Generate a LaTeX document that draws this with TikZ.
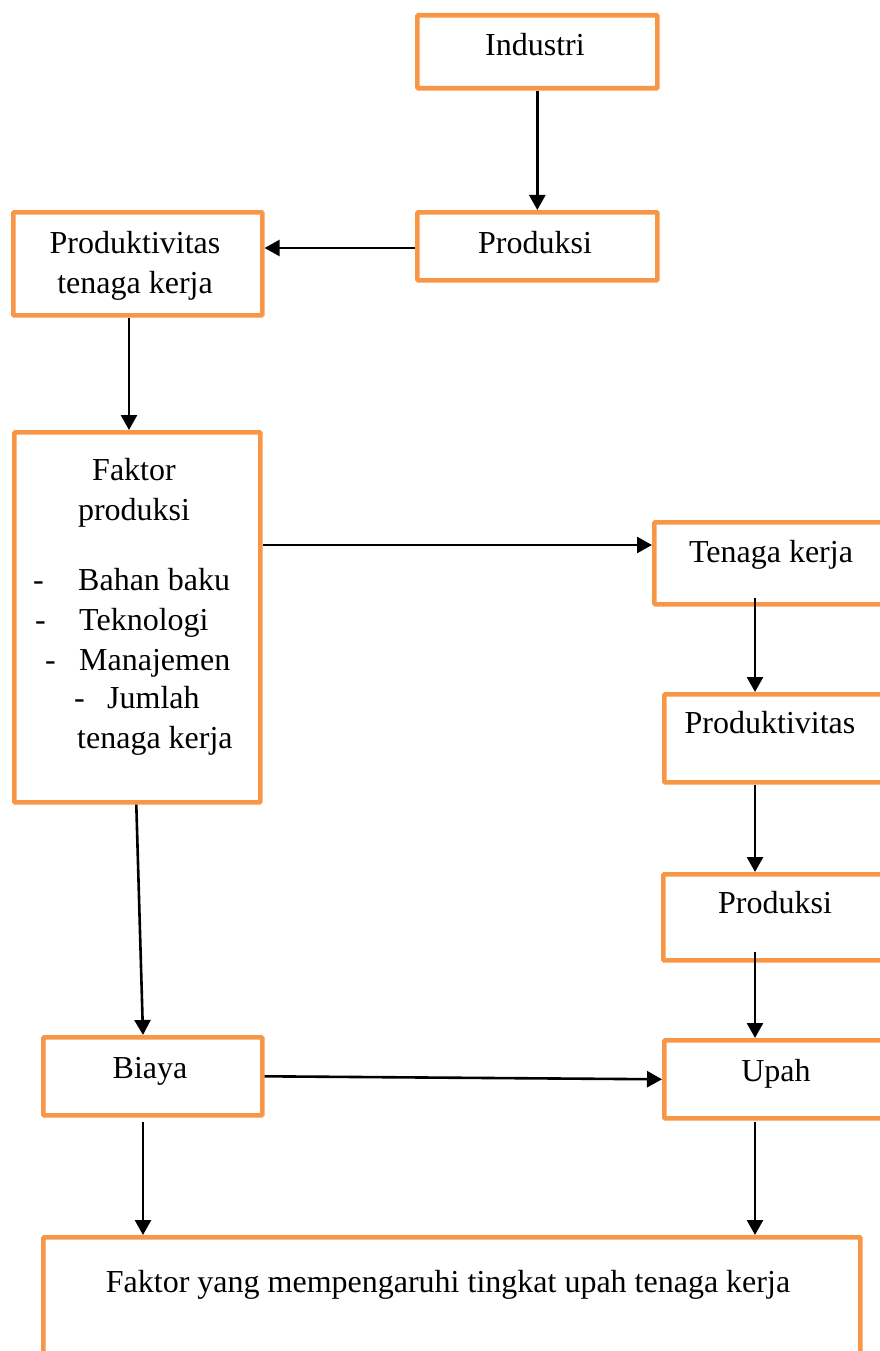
\documentclass[tikz,border=0pt]{standalone}
\usepackage{fontspec}
\setmainfont{Liberation Serif}
\usetikzlibrary{arrows.meta}
\definecolor{boxorange}{HTML}{F79646}
\begin{document}
\begin{tikzpicture}[x=1pt,y=-1pt,
  box/.style={draw=boxorange, line width=4.6pt, rectangle, inner sep=0pt, anchor=north west, rounded corners=1pt},
  txt/.style={font=\fontsize{32}{38}\selectfont, inner sep=0pt, anchor=base},
  txtw/.style={font=\fontsize{32}{38}\selectfont, inner sep=0pt, anchor=base west},
  arr/.style={draw=black, line width=2.6pt, -{Triangle[length=15pt,width=16pt]}}]
\path[use as bounding box] (0,0) rectangle (880,1351);
\clip (0,0) rectangle (880,1351);
\fill[white] (0,0) rectangle (880,1351);

% boxes
\node[box, minimum width=240pt, minimum height=73pt] (ind) at (415,13) {};
\node[box, minimum width=240pt, minimum height=68pt] (prodA) at (415,210) {};
\node[box, minimum width=249pt, minimum height=103pt] (ptk) at (11,210) {};
\node[box, minimum width=246pt, minimum height=370pt] (fak) at (12,430) {};
\node[box, minimum width=260pt, minimum height=82pt] (tk) at (652,520) {};
\node[box, minimum width=250pt, minimum height=88pt] (prodv) at (662,692) {};
\node[box, minimum width=250pt, minimum height=86pt] (prodB) at (661,872) {};
\node[box, minimum width=219pt, minimum height=78pt] (biaya) at (41,1035) {};
\node[box, minimum width=250pt, minimum height=78pt] (upah) at (662,1038) {};
\node[box, minimum width=817pt, minimum height=150pt] (bot) at (41,1235) {};

% texts
\node[txt] (tInd) at (535,56) {Industri};
\node[txt] (tProdA) at (535,253) {Produksi};
\node[txt] (tPtk1) at (135,253) {Produktivitas};
\node[txt] (tPtk2) at (135,293) {tenaga kerja};
\node[txt] (tFak1) at (134,480) {Faktor};
\node[txt] (tFak2) at (134,520) {produksi};
\node[txtw] (d1) at (33,590) {-};
\node[txtw] (d2) at (35,630) {-};
\node[txtw] (d3) at (45,670) {-};
\node[txtw] (d4) at (74,708) {-};
\node[txtw] (l1) at (78,590) {Bahan baku};
\node[txtw] (l2) at (79,630) {Teknologi};
\node[txtw] (l3) at (79,670) {Manajemen};
\node[txtw] (l4) at (107,708) {Jumlah};
\node[txtw] (l5) at (77,748) {tenaga kerja};
\node[txt] (tTk) at (771,562) {Tenaga kerja};
\node[txt] (tProdv) at (770,733) {Produktivitas};
\node[txt] (tProdB) at (775,913) {Produksi};
\node[txt] (tBiaya) at (150,1078) {Biaya};
\node[txt] (tUpah) at (776,1081) {Upah};
\node[txt] (tBot) at (448,1292) {Faktor yang mempengaruhi tingkat upah tenaga kerja};

% helper coordinates
\coordinate (yA) at (0,248);
\coordinate (yB) at (0,545);
\coordinate (xA) at (129,0);
\coordinate (xR) at (755,0);
\coordinate (xL) at (143,0);

% connectors
\draw[arr] (ind.south) -- (prodA.north);
\draw[arr] (prodA.west |- yA) -- (ptk.east |- yA);
\draw[arr] (ptk.south -| xA) -- (fak.north -| xA);
\draw[arr] (fak.east |- yB) -- (tk.west |- yB);
\draw[arr] ([yshift=9pt]tk.south -| xR) -- (prodv.north -| xR);
\draw[arr] (prodv.south -| xR) -- (prodB.north -| xR);
\draw[arr] ([yshift=11pt]prodB.south -| xR) -- (upah.north -| xR);
\draw[arr] ([xshift=-1pt]fak.south) -- (biaya.north -| xL);
\draw[arr] (biaya.east) -- (upah.west);
\draw[arr] ([yshift=-4pt]biaya.south -| xL) -- (bot.north -| xL);
\draw[arr] ([yshift=-1pt]upah.south -| xR) -- (bot.north -| xR);
\end{tikzpicture}
\end{document}
